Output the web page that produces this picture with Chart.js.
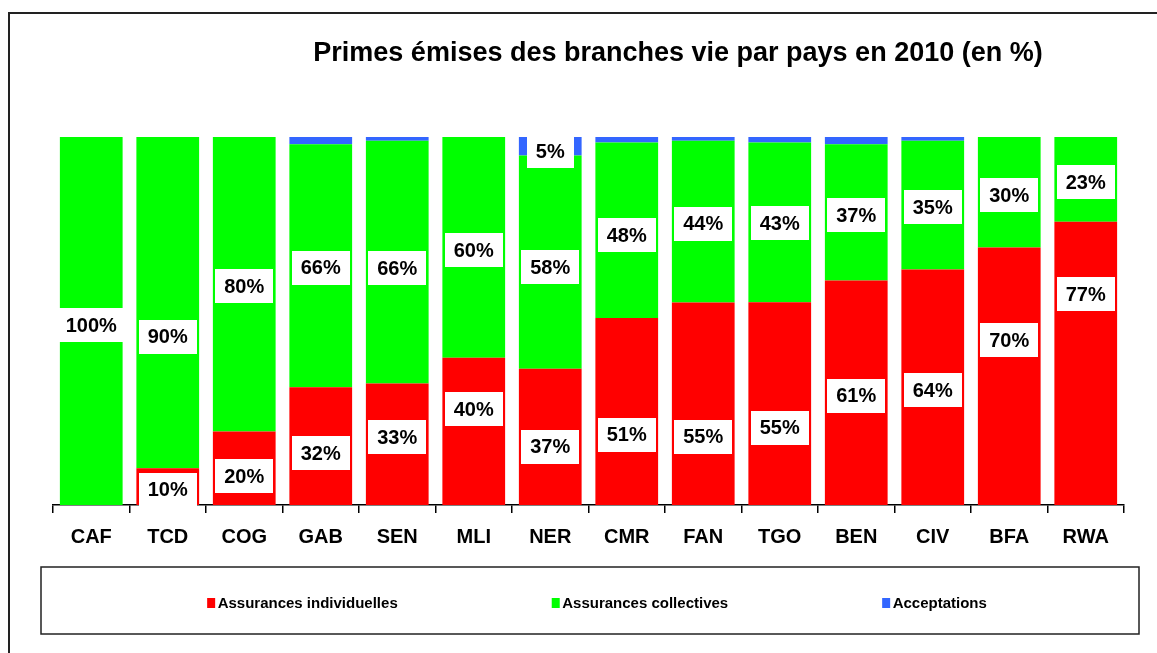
<!DOCTYPE html>
<html><head><meta charset="utf-8">
<script src="https://cdn.jsdelivr.net/npm/chart.js@4/dist/chart.umd.min.js"></script>
<style>html,body{margin:0;padding:0;background:#fff}#wrap{width:1157px;height:653px;position:relative}</style>
</head><body><div id="wrap"><canvas id="c" width="1157" height="653"></canvas></div>
<script>
const countries = ['CAF','TCD','COG','GAB','SEN','MLI','NER','CMR','FAN','TGO','BEN','CIV','BFA','RWA'];
const individuelles = [0, 10, 20, 32, 33, 40, 37, 50.8, 55, 55.1, 61, 64, 70, 77];
const collectives = [100, 90, 80, 66, 66, 60, 58, 47.7, 44, 43.4, 37, 35, 30, 23];
const acceptations = [0, 0, 0, 2, 1, 0, 5, 1.5, 1, 1.5, 2, 1, 0, 0];
const seriesNames = ['Assurances individuelles', 'Assurances collectives', 'Acceptations'];
const chartTitle = 'Primes émises des branches vie par pays en 2010 (en %)';

const FONT = "'Liberation Sans', Arial, sans-serif";
const colors = ['#FF0000', '#00FF00', '#3366FF'];
// vertical nudges (px) of the value labels, relative to the segment centre
const labelNudge = [
  [0, 3, 8, 7, -7, -22, 10, 23, 33, 24, 3, 3, -36, -69],
  [4, 34, 2, 2, 6, 3, 5, 5, 2, 1, 3, 2, 3, 3],
  [0, 0, 0, 0, 0, 0, 5, 0, 0, 0, 0, 0, 0, 0]
];

const decorPlugin = {
  id: 'decor',
  beforeDraw(chart) {
    const ctx = chart.ctx;
    ctx.save();
    ctx.fillStyle = '#fff';
    ctx.fillRect(0, 0, chart.width, chart.height);
    ctx.strokeStyle = '#222';
    ctx.lineWidth = 2;
    ctx.beginPath();
    ctx.moveTo(9, chart.height);
    ctx.lineTo(9, 13);
    ctx.lineTo(chart.width, 13);
    ctx.stroke();
    // title
    ctx.fillStyle = '#000';
    ctx.font = 'bold 27px ' + FONT;
    ctx.textAlign = 'center';
    ctx.textBaseline = 'middle';
    ctx.fillText(chartTitle, 678, 54);
    // legend box
    ctx.lineWidth = 1.5;
    ctx.strokeStyle = '#222';
    ctx.strokeRect(41, 567, 1098, 67);
    ctx.font = 'bold 15px ' + FONT;
    ctx.textAlign = 'left';
    const gap = 154, boxW = 8, boxH = 10, tGap = 2.5;
    const widths = chart.data.datasets.map(d => boxW + tGap + ctx.measureText(d.label).width);
    const total = widths.reduce((a, b) => a + b, 0) + gap * (widths.length - 1);
    let x = (41 + 1139) / 2 - total / 2 + 7;
    const cy = 603;
    chart.data.datasets.forEach((d, i) => {
      ctx.fillStyle = d.backgroundColor;
      ctx.fillRect(x, cy - boxH / 2, boxW, boxH);
      ctx.fillStyle = '#000';
      ctx.fillText(d.label, x + boxW + tGap, cy + 1);
      x += widths[i] + gap;
    });
    ctx.restore();
  },
  afterDatasetsDraw(chart) {
    const ctx = chart.ctx;
    ctx.save();
    ctx.font = 'bold 20px ' + FONT;
    ctx.textAlign = 'center';
    ctx.textBaseline = 'middle';
    chart.data.datasets.forEach((ds, di) => {
      const meta = chart.getDatasetMeta(di);
      meta.data.forEach((bar, i) => {
        const v = ds.data[i];
        if (!(v >= 5)) return;
        const txt = Math.round(v) + '%';
        const cx = bar.x;
        const cy = (bar.y + bar.base) / 2 + labelNudge[di][i];
        const w = ctx.measureText(txt).width + 18;
        const h = 34;
        ctx.fillStyle = '#fff';
        ctx.fillRect(Math.round(cx - w / 2), Math.round(cy - h / 2), Math.round(w), h);
        ctx.fillStyle = '#000';
        ctx.fillText(txt, cx, cy + 1);
      });
    });
    ctx.restore();
  }
};

new Chart(document.getElementById('c'), {
  type: 'bar',
  data: {
    labels: countries,
    datasets: [
      { label: seriesNames[0], data: individuelles, backgroundColor: colors[0] },
      { label: seriesNames[1], data: collectives, backgroundColor: colors[1] },
      { label: seriesNames[2], data: acceptations, backgroundColor: colors[2] }
    ].map(d => Object.assign(d, { barPercentage: 0.82, categoryPercentage: 1, borderWidth: 0 }))
  },
  options: {
    responsive: false,
    animation: false,
    layout: { padding: { left: 53, right: 33, top: 137, bottom: 88 } },
    plugins: { legend: { display: false }, title: { display: false }, tooltip: { enabled: false } },
    scales: {
      x: {
        stacked: true,
        grid: { display: true, drawOnChartArea: false, drawTicks: true, tickLength: 8, color: '#000', lineWidth: 1.5 },
        border: { display: true, color: '#000', width: 1.5 },
        ticks: { color: '#000', font: { family: FONT, size: 20, weight: 'bold' }, padding: 12, maxRotation: 0 },
        afterFit(s) { s.height = 60; }
      },
      y: { stacked: true, display: false, min: 0, max: 100 }
    }
  },
  plugins: [decorPlugin]
});
</script></body></html>
